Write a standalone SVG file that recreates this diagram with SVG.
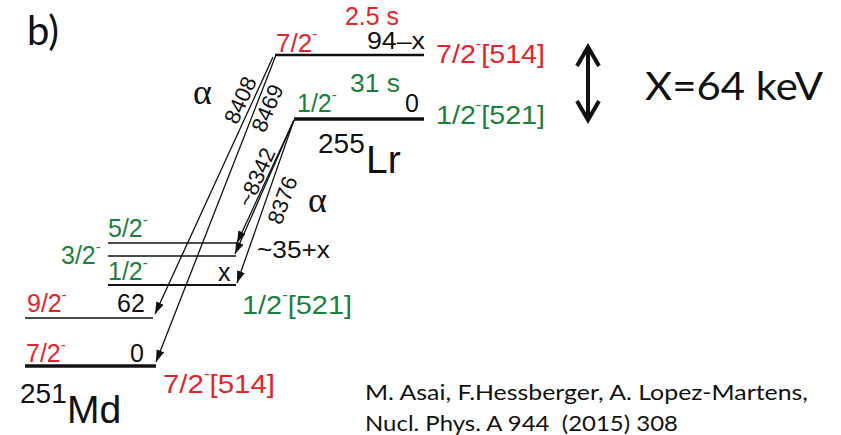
<svg xmlns="http://www.w3.org/2000/svg" width="841" height="435" viewBox="0 0 841 435">
<style>
.lb{font-family:"Liberation Sans",Arial,sans-serif;}
.cal{font-family:Lato,"Open Sans",sans-serif;fill:#111;}
.red{fill:#e2242b;}
.grn{fill:#1d7f3c;}
.blk{fill:#111;}
.al{font-family:"Liberation Serif","Times New Roman",serif;font-size:36px;fill:#111;}
.lvl{stroke:#111;fill:none;}
.tr{stroke:#111;stroke-width:1.3;fill:none;marker-end:url(#ah);}
</style>
<defs>
<marker id="ah" markerUnits="userSpaceOnUse" markerWidth="14" markerHeight="9" refX="12" refY="4" orient="auto">
<path d="M0,0 L12,4 L0,8 z" fill="#111"/>
</marker>
</defs>
<rect width="841" height="435" fill="#fff"/>

<g id="panel-label"><text class="cal" x="27" y="45" font-size="40">b)</text></g>

<g id="lr-level-72">
<line class="lvl" x1="275" y1="55" x2="424" y2="55" stroke-width="2.5"/>
<text class="lb red" x="345" y="25" font-size="25" textLength="54" lengthAdjust="spacingAndGlyphs">2.5 s</text>
<text class="lb red" x="276" y="52" font-size="26">7/2<tspan font-size="15" dy="-13">-</tspan></text>
<text class="lb blk" x="367" y="49" font-size="24" textLength="58" lengthAdjust="spacingAndGlyphs">94–x</text>
<text class="lb red" x="436" y="63" font-size="26" textLength="109" lengthAdjust="spacingAndGlyphs">7/2<tspan font-size="15" dy="-14">-</tspan><tspan dy="14">[514]</tspan></text>
</g>

<g id="lr-level-12">
<line class="lvl" x1="294" y1="119" x2="424" y2="119" stroke-width="3.5"/>
<text class="lb grn" x="350" y="92" font-size="25" textLength="50" lengthAdjust="spacingAndGlyphs">31 s</text>
<text class="lb grn" x="297" y="112" font-size="25">1/2<tspan font-size="15" dy="-12">-</tspan></text>
<text class="lb blk" x="405" y="112" font-size="25">0</text>
<text class="lb grn" x="436" y="124" font-size="26" textLength="109" lengthAdjust="spacingAndGlyphs">1/2<tspan font-size="15" dy="-14">-</tspan><tspan dy="14">[521]</tspan></text>
</g>

<g id="lr-nucleus">
<text class="lb blk" x="318" y="153" font-size="28">255</text>
<text class="lb blk" x="366" y="173" font-size="39">Lr</text>
</g>

<g id="energy-gap">
<line x1="588" y1="48" x2="588" y2="120" stroke="#111" stroke-width="4"/>
<polyline points="577,66 588,47 599,66" fill="none" stroke="#111" stroke-width="4" stroke-linejoin="miter"/>
<polyline points="577,101 588,120 599,101" fill="none" stroke="#111" stroke-width="4" stroke-linejoin="miter"/>
<text class="cal" x="645" y="100" font-size="39" textLength="178" lengthAdjust="spacingAndGlyphs">X=64 keV</text>
</g>

<g id="md-level-52">
<line class="lvl" x1="108" y1="243" x2="236" y2="243" stroke-width="1.5"/>
<text class="lb grn" x="108" y="237" font-size="25">5/2<tspan font-size="15" dy="-12">-</tspan></text>
</g>
<g id="md-level-32">
<line class="lvl" x1="108" y1="256" x2="236" y2="256" stroke-width="1.5"/>
<text class="lb grn" x="61" y="264" font-size="25">3/2<tspan font-size="15" dy="-12">-</tspan></text>
<text class="lb blk" x="257" y="258" font-size="24" textLength="73" lengthAdjust="spacingAndGlyphs">~35+x</text>
</g>
<g id="md-level-12">
<line class="lvl" x1="108" y1="285" x2="236" y2="285" stroke-width="2"/>
<text class="lb grn" x="108" y="280" font-size="25">1/2<tspan font-size="15" dy="-12">-</tspan></text>
<text class="lb blk" x="218" y="281" font-size="25">x</text>
<text class="lb grn" x="242" y="314" font-size="26" textLength="110" lengthAdjust="spacingAndGlyphs">1/2<tspan font-size="15" dy="-14">-</tspan><tspan dy="14">[521]</tspan></text>
</g>
<g id="md-level-92">
<line class="lvl" x1="25" y1="318" x2="153" y2="318" stroke-width="1.5"/>
<text class="lb red" x="27" y="312" font-size="25">9/2<tspan font-size="15" dy="-12">-</tspan></text>
<text class="lb blk" x="117" y="312" font-size="25">62</text>
</g>
<g id="md-level-72">
<line class="lvl" x1="25" y1="366" x2="156" y2="366" stroke-width="3.5"/>
<text class="lb red" x="26" y="362" font-size="25">7/2<tspan font-size="15" dy="-12">-</tspan></text>
<text class="lb blk" x="130" y="362" font-size="25">0</text>
<text class="lb red" x="163" y="393" font-size="26" textLength="112" lengthAdjust="spacingAndGlyphs">7/2<tspan font-size="15" dy="-14">-</tspan><tspan dy="14">[514]</tspan></text>
</g>
<g id="md-nucleus">
<text class="lb blk" x="20" y="403" font-size="28">251</text>
<text class="lb blk" x="67" y="423" font-size="39">Md</text>
</g>

<g id="connectors">
<line class="tr" x1="273" y1="57" x2="155" y2="314"/>
<line class="tr" x1="276" y1="55" x2="156" y2="362"/>
<line class="tr" x1="294" y1="120" x2="237" y2="243"/>
<line class="tr" x1="294" y1="120" x2="235" y2="254"/>
<line class="tr" x1="294" y1="120" x2="237" y2="283"/>
<text class="al" x="193" y="104">α</text>
<text class="al" x="308" y="212">α</text>
<text class="lb blk" font-size="22" text-anchor="middle" transform="translate(240,100) rotate(-66)" y="8">8408</text>
<text class="lb blk" font-size="22" text-anchor="middle" transform="translate(267,108) rotate(-67)" y="8">8469</text>
<text class="lb blk" font-size="22" text-anchor="middle" transform="translate(256,177) rotate(-66)" y="8">~8342</text>
<text class="lb blk" font-size="22" text-anchor="middle" transform="translate(282,200) rotate(-70)" y="8">8376</text>
</g>

<g id="citation">
<text class="cal" x="365" y="400" font-size="22" textLength="443" lengthAdjust="spacingAndGlyphs">M. Asai, F.Hessberger, A. Lopez-Martens,</text>
<text class="cal" x="365" y="431" font-size="22" textLength="313" lengthAdjust="spacingAndGlyphs" xml:space="preserve">Nucl. Phys. A 944  (2015) 308</text>
</g>
</svg>
